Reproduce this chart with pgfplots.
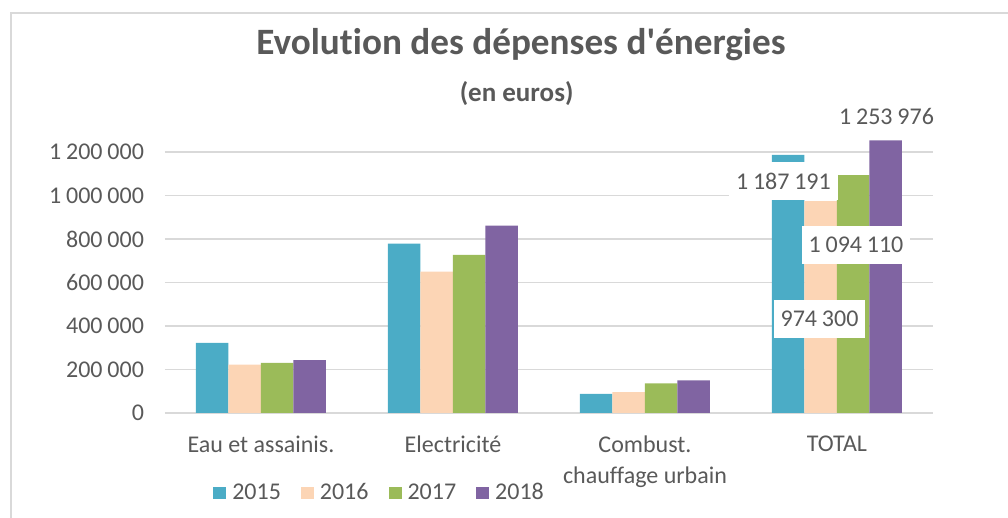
\documentclass[border=0pt]{standalone}
\usepackage{pgfplots}
\pgfplotsset{compat=1.18}
\usepackage{fontspec}
\setmainfont{Carlito}[Ligatures={NoCommon}]
\definecolor{c15}{HTML}{4BACC6}
\definecolor{c16}{HTML}{FCD5B5}
\definecolor{c17}{HTML}{9BBB59}
\definecolor{c18}{HTML}{8064A2}
\definecolor{txt}{HTML}{595959}
\definecolor{grd}{HTML}{D9D9D9}
\newcommand{\sep}{\hspace{0.2em}}

\begin{document}
\begin{tikzpicture}
\useasboundingbox (-82.5pt,-52.5pt) rectangle (421.5pt,206.5pt);
\draw[grd, line width=1.3pt] (-77pt,-53pt) -- (-77pt,200pt) -- (422pt,200pt);
\begin{axis}[
  scale only axis, width=384pt, height=141.375pt,
  xmin=-0.5, xmax=3.5, ymin=0, ymax=1300000,
  ybar=0pt, bar width=16.25pt,
  xtick={0,1,2,3},
  xticklabels={Eau et assainis., Electricité, {Combust.\\chauffage urbain}, TOTAL},
  ytick={0,200000,400000,600000,800000,1000000,1200000},
  scaled y ticks=false,
  ymajorgrids, grid style={grd, line width=0.8pt},
  axis line style={draw=none}, major tick length=0pt,
  tick label style={text=txt, font=\fontsize{12}{15.5}\selectfont},
  xticklabel style={align=center, yshift=-8pt},
  yticklabel style={xshift=-7pt,
    /pgf/number format/fixed, /pgf/number format/precision=0,
    /pgf/number format/1000 sep={\sep},
    /pgf/number format/assume math mode=true},
  clip=false,
  legend columns=4,
  legend image code/.code={\fill[#1] (0pt,-3pt) rectangle (6.5pt,3pt);},
  legend style={draw=none, fill=none, text=txt, font=\fontsize{12}{14.5}\selectfont,
    at={(0.282,-0.283)}, anchor=center,
    nodes={inner xsep=3pt},
    /tikz/every even column/.append style={column sep=7pt}},
]
\addplot[fill=c15, draw=none] coordinates {(0,322000) (1,779000) (2,88000) (3,1187191)};
\addlegendentry{2015}
\addplot[fill=c16, draw=none] coordinates {(0,222000) (1,650000) (2,96000) (3,974300)};
\addlegendentry{2016}
\addplot[fill=c17, draw=none] coordinates {(0,231000) (1,727000) (2,136000) (3,1094110)};
\addlegendentry{2017}
\addplot[fill=c18, draw=none] coordinates {(0,243000) (1,861000) (2,150000) (3,1253976)};
\addlegendentry{2018}

\tikzset{lbl/.style={fill=white, text=txt, font=\fontsize{12}{14.5}\selectfont,
  inner xsep=3.5pt, inner ysep=5.7pt, text height=7.6pt, text depth=0pt}}
\node[lbl] at (axis cs:2.721,1064400) {1\sep187\sep191};
\node[lbl] at (axis cs:3.099,772400) {1\sep094\sep110};
\node[lbl] at (axis cs:2.909,432200) {974\sep300};
\node[lbl] at (axis cs:3.258,1361000) {1\sep253\sep976};
\end{axis}
\node[anchor=base, text=txt, font=\fontsize{18.6}{20}\selectfont\bfseries] at (178pt,179pt) {Evolution des dépenses d\textquotesingle énergies};
\node[anchor=base, text=txt, font=\fontsize{13.5}{15}\selectfont\bfseries] at (175.8pt,155.5pt) {(en euros)};
\end{tikzpicture}
\end{document}
